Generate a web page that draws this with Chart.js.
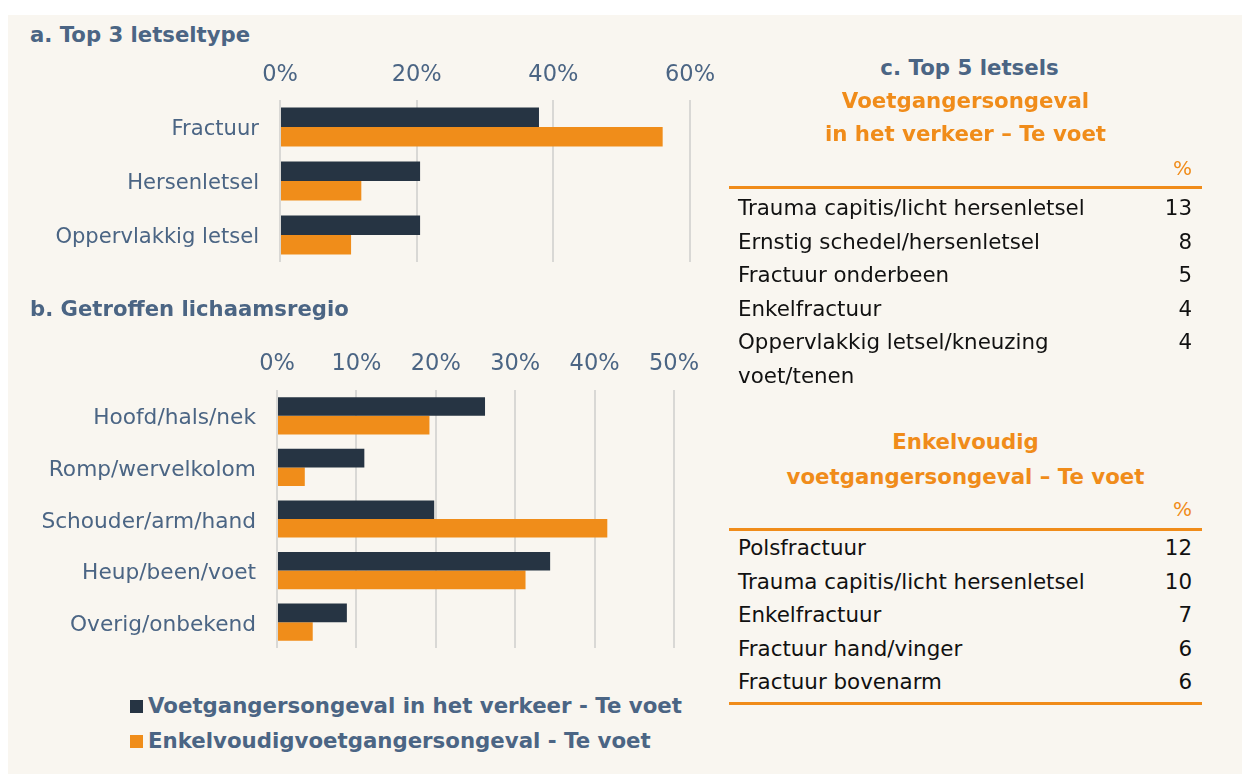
<!DOCTYPE html>
<html>
<head>
<meta charset="utf-8">
<script src="https://cdn.jsdelivr.net/npm/chart.js@4.4.1/dist/chart.umd.min.js"></script>
<style>
  html, body { margin: 0; padding: 0; background: #ffffff; width: 1242px; height: 774px; overflow: hidden; }
  body { position: relative; font-family: "DejaVu Sans", Verdana, sans-serif; }
  #panel { position: absolute; left: 8px; top: 15px; width: 1234px; height: 759px; background: #f9f6f0; }
  .title { position: absolute; font-weight: bold; font-size: 21.2px; color: #4b6584; white-space: nowrap; }
  canvas { position: absolute; }
  .legend { position: absolute; left: 130px; font-weight: bold; font-size: 21.3px; color: #4b6584; white-space: nowrap; line-height: 24px; }
  .legend span.sw { display: inline-block; width: 13px; height: 13px; margin-right: 5px; vertical-align: 0px; }
  .thead { position: absolute; left: 729px; width: 473px; text-align: center; font-weight: bold; font-size: 21.3px; white-space: nowrap; }
  .pct { position: absolute; left: 729px; width: 463px; text-align: right; color: #f08c1a; font-size: 20px; }
  .rule { position: absolute; left: 729px; width: 473px; height: 3px; background: #f08c1a; }
  table.t { position: absolute; left: 729px; width: 473px; border-collapse: collapse; font-size: 21.4px; color: #111; }
  table.t td { padding: 0; line-height: 33.6px; vertical-align: top; }
  table.t td.n { padding-left: 9px; width: 355px; }
  table.t td.v { text-align: right; padding-right: 10px; }
</style>
</head>
<body>
<div id="panel"></div>

<div class="title" style="left:30px; top:22px;">a. Top 3 letseltype</div>
<canvas id="chartA" width="730" height="257" style="left:0px; top:45px;"></canvas>

<div class="title" style="left:30px; top:296px;">b. Getroffen lichaamsregio</div>
<canvas id="chartB" width="720" height="358" style="left:0px; top:330px;"></canvas>

<div id="legend"></div>

<div class="thead" style="top:55px; left:733px; color:#4b6584;">c. Top 5 letsels</div>
<div class="thead" style="top:88px; color:#f08c1a;">Voetgangersongeval</div>
<div class="thead" style="top:121px; color:#f08c1a;">in het verkeer – Te voet</div>
<div class="pct" style="top:156px;">%</div>
<div class="rule" style="top:186px;"></div>
<table class="t" id="tab1" style="top:191px;"></table>

<div class="thead" style="top:429px; color:#f08c1a;">Enkelvoudig</div>
<div class="thead" style="top:464px; color:#f08c1a;">voetgangersongeval – Te voet</div>
<div class="pct" style="top:497px;">%</div>
<div class="rule" style="top:528px;"></div>
<table class="t" id="tab2" style="top:531px;"></table>
<div class="rule" style="top:702px;"></div>

<script>
// ---- data ----
const seriesNames = ['Voetgangersongeval in het verkeer - Te voet', 'Enkelvoudigvoetgangersongeval - Te voet'];
const letselCategories = ['Fractuur', 'Hersenletsel', 'Oppervlakkig letsel'];
const letselVerkeer = [37.9, 20.5, 20.5];
const letselEnkel = [56.0, 11.9, 10.4];
const letselTicks = [0, 20, 40, 60];

const regioCategories = ['Hoofd/hals/nek', 'Romp/wervelkolom', 'Schouder/arm/hand', 'Heup/been/voet', 'Overig/onbekend'];
const regioVerkeer = [26.2, 11.0, 19.8, 34.4, 8.8];
const regioEnkel = [19.2, 3.5, 41.6, 31.3, 4.5];
const regioTicks = [0, 10, 20, 30, 40, 50];

const top5VerkeerNames = ['Trauma capitis/licht hersenletsel', 'Ernstig schedel/hersenletsel', 'Fractuur onderbeen', 'Enkelfractuur', 'Oppervlakkig letsel/kneuzing voet/tenen'];
const top5VerkeerValues = [13, 8, 5, 4, 4];
const top5EnkelNames = ['Polsfractuur', 'Trauma capitis/licht hersenletsel', 'Enkelfractuur', 'Fractuur hand/vinger', 'Fractuur bovenarm'];
const top5EnkelValues = [12, 10, 7, 6, 6];

// ---- styles ----
const colors = ['#263443', '#f08d1a'];
const textColor = '#4b6584';
const gridColor = '#d9d8d5';
const fontFamily = '"DejaVu Sans", Verdana, sans-serif';

function makeChart(id, cats, v1, v2, ticks, yWidth, xHeight, pad, tickPad, catSize, catOffset) {
  const maxV = ticks[ticks.length - 1];
  const step = ticks[1] - ticks[0];
  return new Chart(document.getElementById(id), {
    type: 'bar',
    data: {
      labels: cats,
      datasets: [
        { label: seriesNames[0], data: v1, backgroundColor: colors[0], borderWidth: 0, categoryPercentage: 0.72, barPercentage: 1.0 },
        { label: seriesNames[1], data: v2, backgroundColor: colors[1], borderWidth: 0, categoryPercentage: 0.72, barPercentage: 1.0 }
      ]
    },
    options: {
      indexAxis: 'y',
      responsive: false,
      animation: false,
      devicePixelRatio: 1,
      layout: { padding: pad },
      plugins: { legend: { display: false }, tooltip: { enabled: false } },
      scales: {
        x: {
          position: 'top',
          min: 0, max: maxV,
          afterFit: s => { s.height = xHeight; },
          ticks: { stepSize: step, color: textColor, font: { family: fontFamily, size: 22.5 }, padding: tickPad, callback: v => v + '%' },
          grid: { color: gridColor, lineWidth: 2, drawTicks: false },
          border: { display: false }
        },
        y: {
          afterFit: s => { s.width = yWidth; },
          ticks: { color: textColor, font: { family: fontFamily, size: catSize }, padding: 21, labelOffset: catOffset },
          grid: { display: false, drawTicks: false },
          border: { display: false }
        }
      }
    }
  });
}

makeChart('chartA', letselCategories, letselVerkeer, letselEnkel, letselTicks, 280, 55, { right: 40, bottom: 40, top: 0, left: 0 }, 11, 21.1, 2.5);
makeChart('chartB', regioCategories, regioVerkeer, regioEnkel, regioTicks, 277, 60, { right: 46, bottom: 40, top: 0, left: 0 }, 12, 21.7, 3);

// legend
const lg = document.getElementById('legend');
seriesNames.forEach((n, i) => {
  const d = document.createElement('div');
  d.className = 'legend';
  d.style.top = (694 + i * 35) + 'px';
  d.innerHTML = '<span class="sw" style="background:' + colors[i] + '"></span>' + n;
  lg.appendChild(d);
});

// tables
function fillTable(id, names, vals) {
  const t = document.getElementById(id);
  names.forEach((n, i) => {
    const tr = document.createElement('tr');
    const a = document.createElement('td'); a.className = 'n'; a.textContent = n;
    const b = document.createElement('td'); b.className = 'v'; b.textContent = vals[i];
    tr.appendChild(a); tr.appendChild(b); t.appendChild(tr);
  });
}
fillTable('tab1', top5VerkeerNames, top5VerkeerValues);
fillTable('tab2', top5EnkelNames, top5EnkelValues);
</script>
</body>
</html>
